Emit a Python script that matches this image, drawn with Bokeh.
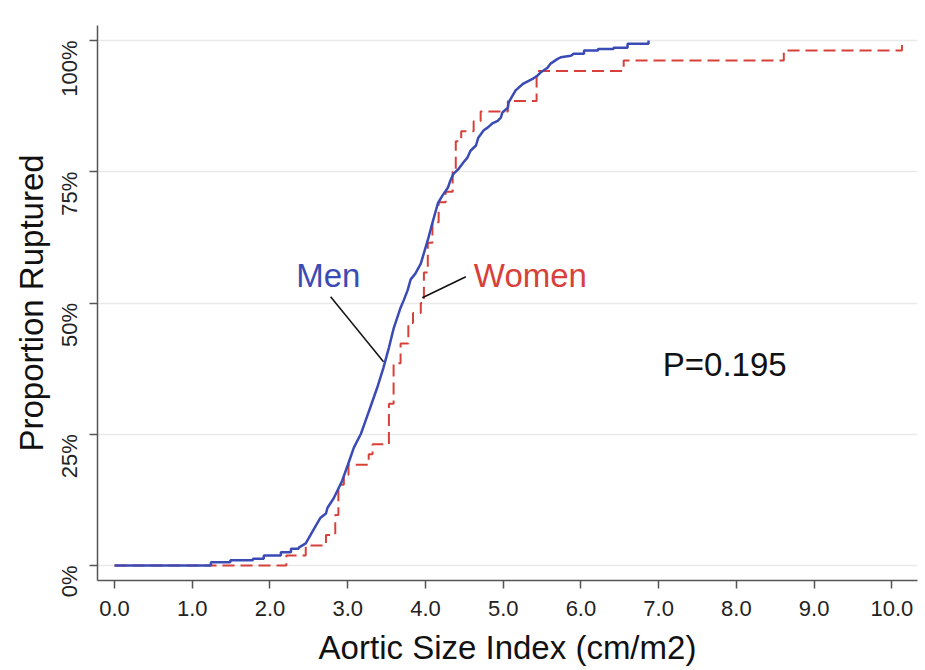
import math
from bokeh.plotting import figure
from bokeh.models import FixedTicker, Label, Range1d
from bokeh.embed import file_html
from bokeh.resources import INLINE

# ---- data ----
# Men: flat/stepped tails are listed with their step corners; the steep middle is traced
men_x = [0.0, 1.24, 1.24, 1.49, 1.49, 1.78, 1.78, 1.92, 1.92, 2.14,
         2.14, 2.27, 2.27, 2.37, 2.37, 2.46, 2.59,
         2.65, 2.72, 2.74, 2.82, 2.93, 3.00, 3.08, 3.17, 3.23, 3.29,
         3.38, 3.46, 3.53, 3.59, 3.68, 3.72, 3.77, 3.81, 3.87, 3.94,
         4.00, 4.04, 4.07, 4.16, 4.22, 4.29, 4.32, 4.36, 4.43, 4.49,
         4.54, 4.58, 4.65, 4.68, 4.75, 4.80, 4.86, 4.93, 4.97, 4.99,
         5.06, 5.07, 5.16, 5.26, 5.39, 5.44, 5.48, 5.57, 5.61, 5.70,
         5.74, 5.87, 5.91, 6.04, 6.04, 6.22, 6.22, 6.42, 6.42, 6.60,
         6.60, 6.87, 6.87]
men_y = [0, 0, 0.6, 0.6, 1.0, 1.0, 1.3, 1.3, 1.9, 1.9,
         2.5, 2.5, 3.2, 3.2, 3.4, 4.2, 7.6,
         9.1, 9.9, 11.0, 12.8, 16.2, 19.1, 22.5, 25.1, 27.6, 30.1,
         33.9, 37.7, 41.5, 45.1, 49.1, 50.5, 52.4, 54.5, 55.6, 57.5,
         60.5, 62.5, 64.2, 69.0, 70.5, 72.0, 73.3, 74.6, 75.6, 76.8,
         77.7, 79.0, 80.0, 81.5, 82.9, 83.4, 84.2, 84.7, 85.3, 86.3,
         87.2, 88.2, 90.5, 91.8, 92.8, 93.3, 93.9, 94.8, 95.6, 96.5,
         96.8, 97.1, 97.5, 97.5, 98.1, 98.1, 98.4, 98.4, 98.6, 98.6,
         99.4, 99.4, 100]

women_x = [0.0, 2.21, 2.46, 2.72, 2.84, 2.88, 2.95, 3.01, 3.27, 3.32,
           3.53, 3.59, 3.68, 3.78, 3.84, 3.94, 3.98, 4.03, 4.09, 4.17,
           4.26, 4.35, 4.39, 4.46, 4.62, 4.71, 5.06, 5.43, 6.55, 8.61,
           10.13]
women_y = [0, 1.9, 3.8, 5.8, 9.6, 15.4, 17.3, 19.2, 21.2, 23.1,
           30.8, 38.5, 42.3, 46.2, 48.1, 50.0, 55.8, 61.5, 65.4, 69.2,
           71.2, 75.0, 80.8, 82.7, 84.6, 86.5, 88.5, 94.2, 96.2, 98.1,
           100]

x_ticks = [0, 1, 2, 3, 4, 5, 6, 7, 8, 9, 10]
x_tick_labels = ["0.0", "1.0", "2.0", "3.0", "4.0", "5.0", "6.0", "7.0", "8.0", "9.0", "10.0"]
y_ticks = [0, 25, 50, 75, 100]
y_tick_labels = ["0%", "25%", "50%", "75%", "100%"]

FONT = "Liberation Sans"
MEN_COLOR = "#3a4bb5"
WOMEN_COLOR = "#d8403a"

p = figure(width=925, height=670, output_backend="svg", toolbar_location=None,
           x_range=Range1d(-0.219, 10.33), y_range=Range1d(-2.86, 102.86),
           min_border_left=97, min_border_right=8, min_border_top=25, min_border_bottom=90)
p.outline_line_color = None
p.background_fill_color = "white"
p.border_fill_color = "white"

# grid
p.xgrid.visible = False
p.ygrid.ticker = FixedTicker(ticks=y_ticks)
p.ygrid.grid_line_color = "#e9e9e9"
p.ygrid.grid_line_width = 1.5

# axes
for ax in (p.xaxis[0], p.yaxis[0]):
    ax.axis_line_color = "#555555"
    ax.axis_line_width = 1.5
    ax.major_tick_line_color = "#555555"
    ax.major_tick_line_width = 1.5
    ax.major_tick_in = 0
    ax.major_tick_out = 8
    ax.minor_tick_line_color = None
    ax.major_label_text_font = FONT
    ax.major_label_text_font_size = "22px"
    ax.major_label_text_color = "#222222"
    ax.axis_label_text_font = FONT
    ax.axis_label_text_font_size = "33px"
    ax.axis_label_text_font_style = "normal"
    ax.axis_label_text_color = "#111111"

p.xaxis.ticker = FixedTicker(ticks=x_ticks)
p.xaxis.major_label_overrides = {t: l for t, l in zip(x_ticks, x_tick_labels)}
p.xaxis.axis_label = "Aortic Size Index (cm/m2)"
p.xaxis.major_label_standoff = 12
p.xaxis.axis_label_standoff = 10

p.yaxis.ticker = FixedTicker(ticks=y_ticks)
p.yaxis.major_label_overrides = {t: l for t, l in zip(y_ticks, y_tick_labels)}
p.yaxis.major_label_orientation = math.pi / 2
p.yaxis.axis_label = "Proportion Ruptured"
p.yaxis.major_label_standoff = 20
p.yaxis.axis_label_standoff = -8

# curves
p.step(women_x, women_y, mode="after", line_color=WOMEN_COLOR, line_width=2,
       line_dash="12 6")
p.line(men_x, men_y, line_color=MEN_COLOR, line_width=2.5)

# pointer lines
p.segment(x0=[2.78, 4.52], y0=[51.2, 55.0], x1=[3.46, 3.96], y1=[38.8, 51.0],
          line_color="#111111", line_width=1.5)

# labels
p.add_layout(Label(x=2.75, y=55.2, text="Men", text_align="center", text_baseline="middle",
                   text_font=FONT, text_font_size="33px", text_color=MEN_COLOR))
p.add_layout(Label(x=5.35, y=55.2, text="Women", text_align="center", text_baseline="middle",
                   text_font=FONT, text_font_size="33px", text_color=WOMEN_COLOR))
p.add_layout(Label(x=7.85, y=38.3, text="P=0.195", text_align="center", text_baseline="middle",
                   text_font=FONT, text_font_size="33px", text_color="#111111"))

open("out.html", "w").write(file_html(p, INLINE))
